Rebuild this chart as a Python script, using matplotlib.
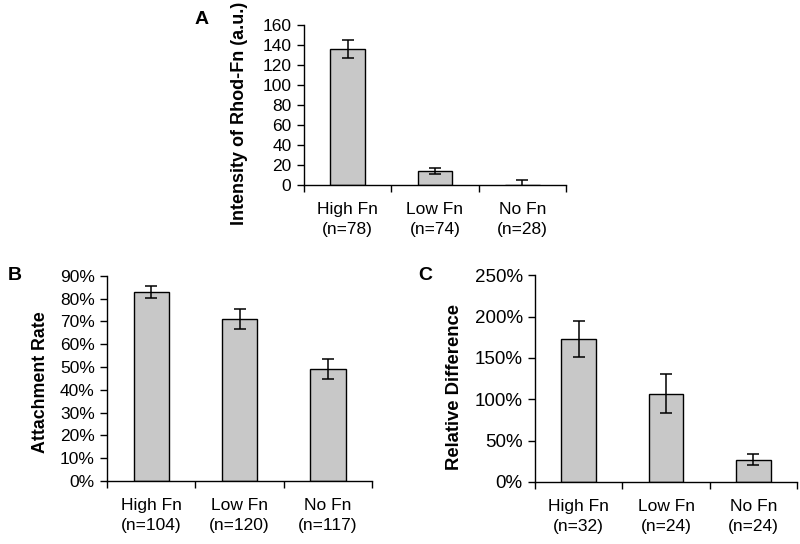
import matplotlib.pyplot as plt
from matplotlib.ticker import FuncFormatter

plt.rcParams['font.family'] = ['Liberation Sans', 'DejaVu Sans']

# Data
categories = ['High Fn', 'Low Fn', 'No Fn']

intensity = [136, 14, 0]
intensity_err = [9, 3, 4.5]
intensity_n = [78, 74, 28]

attachment = [83, 71, 49]
attachment_err = [2.6, 4.3, 4.5]
attachment_n = [104, 120, 117]

rel_diff = [173, 107, 27]
rel_diff_err = [22, 23, 7]
rel_diff_n = [32, 24, 24]

BAR_COLOR = '#c8c8c8'


def draw_panel(ax, values, errors, counts, ylim, step, ylabel, label_xy,
               pct=False, ytick_fs=12.5, label_fs=13):
    x = range(len(categories))
    ax.bar(x, values, width=0.4, color=BAR_COLOR, edgecolor='black', linewidth=1.0,
           yerr=errors, capsize=4.5,
           error_kw={'elinewidth': 1.1, 'capthick': 1.1, 'ecolor': 'black'})
    ax.set_xlim(-0.5, len(categories) - 0.5)
    ax.set_ylim(*ylim)
    ax.set_yticks(range(ylim[0], ylim[1] + 1, step))
    if pct:
        ax.yaxis.set_major_formatter(FuncFormatter(lambda v, p: f'{int(v)}%'))
    labels = [f'{c}\n(n={n})' for c, n in zip(categories, counts)]
    ax.set_xticks(list(x))
    ax.set_xticklabels(labels, linespacing=1.45)
    ax.set_xticks([i - 0.5 for i in range(len(categories) + 1)], minor=True)
    ax.tick_params(axis='x', which='major', length=0, pad=12, labelsize=12.5)
    ax.tick_params(axis='x', which='minor', length=5, direction='out', width=1)
    ax.tick_params(axis='y', length=5, direction='out', width=1, labelsize=ytick_fs, pad=4)
    ax.spines['top'].set_visible(False)
    ax.spines['right'].set_visible(False)
    ax.spines['left'].set_linewidth(1)
    ax.spines['bottom'].set_linewidth(1)
    ax.set_ylabel(ylabel, fontsize=label_fs, fontweight='bold')
    ax.yaxis.set_label_coords(*label_xy)


fig = plt.figure(figsize=(8, 5.44), dpi=100)

ax_a = fig.add_axes([0.38, 0.66, 0.3275, 0.294])
draw_panel(ax_a, intensity, intensity_err, intensity_n, (0, 160), 20,
           'Intensity of Rhod-Fn (a.u.)', (-0.215, 0.45),
           ytick_fs=12.5, label_fs=13)

ax_b = fig.add_axes([0.134, 0.116, 0.331, 0.377])
draw_panel(ax_b, attachment, attachment_err, attachment_n, (0, 90), 10,
           'Attachment Rate', (-0.22, 0.483), pct=True,
           ytick_fs=12.5, label_fs=12.8)

ax_c = fig.add_axes([0.669, 0.114, 0.327, 0.38])
draw_panel(ax_c, rel_diff, rel_diff_err, rel_diff_n, (0, 250), 50,
           'Relative Difference', (-0.277, 0.459), pct=True,
           ytick_fs=13.5, label_fs=13.3)

fig.text(0.252, 0.965, 'A', fontsize=14, fontweight='bold', ha='center', va='center')
fig.text(0.019, 0.494, 'B', fontsize=14, fontweight='bold', ha='center', va='center')
fig.text(0.531, 0.494, 'C', fontsize=14, fontweight='bold', ha='center', va='center')

fig.savefig('out.png', dpi=100)
